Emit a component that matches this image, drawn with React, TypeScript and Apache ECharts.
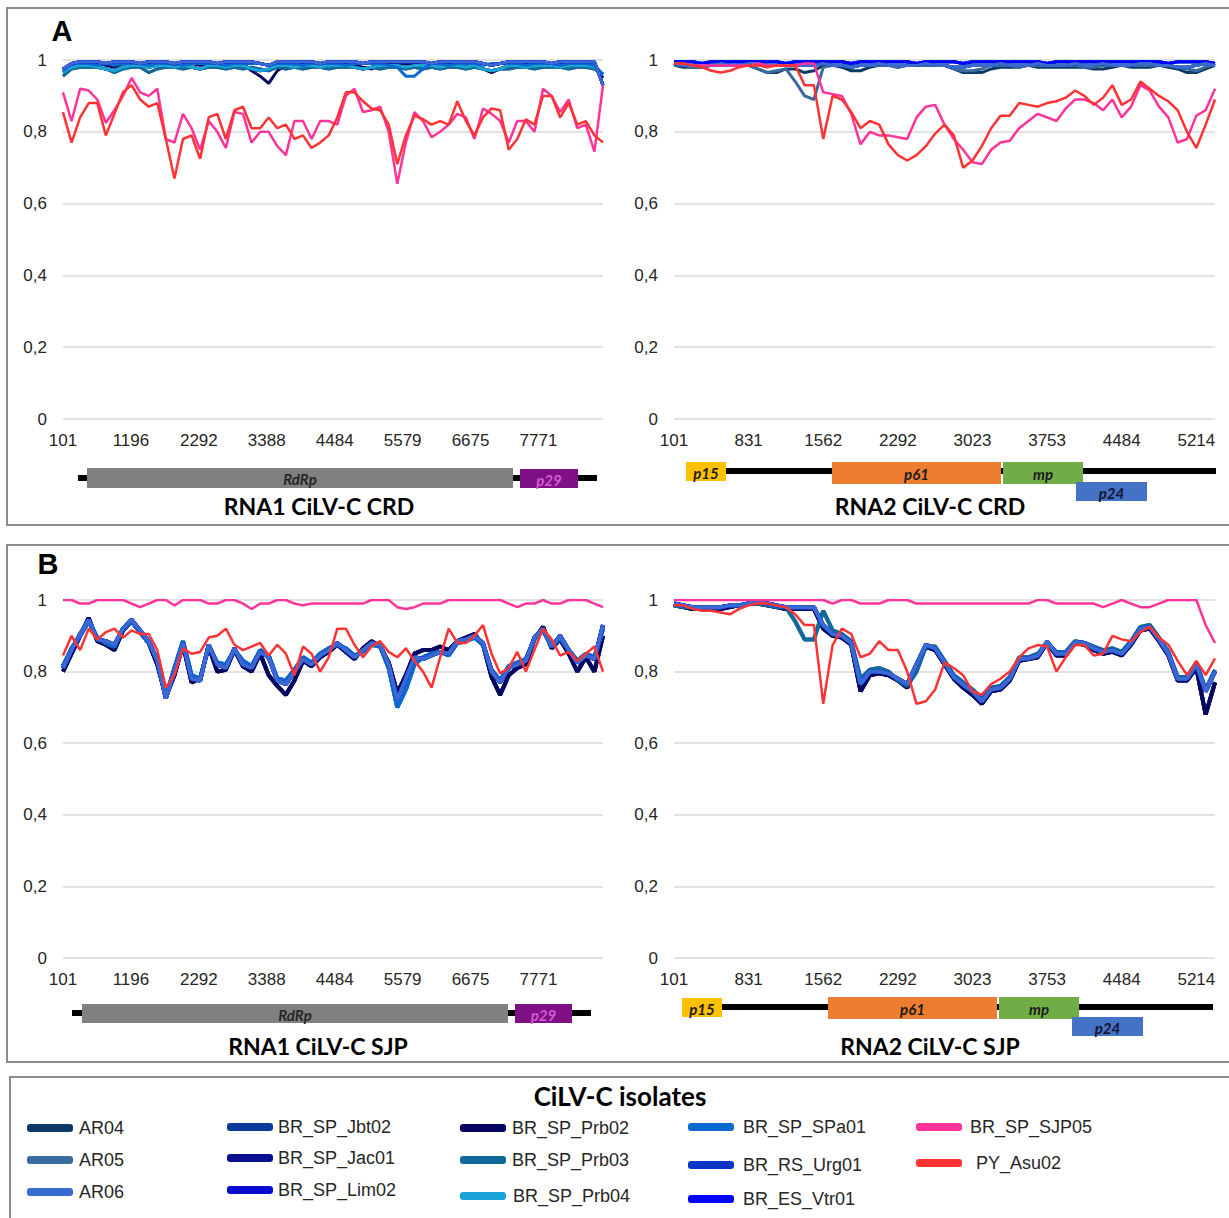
import React, { useEffect, useRef } from "react";
import * as echarts from "echarts";

// ---------- categories / labels ----------
const isolates = [
  "AR04", "AR05", "AR06",
  "BR_SP_Jbt02", "BR_SP_Jac01", "BR_SP_Lim02",
  "BR_SP_Prb02", "BR_SP_Prb03", "BR_SP_Prb04",
  "BR_SP_SPa01", "BR_RS_Urg01", "BR_ES_Vtr01",
  "BR_SP_SJP05", "PY_Asu02",
];
const isolateColors = [
  "#0b3a66", "#3a6a9e", "#3a6ad0",
  "#0a3a9a", "#08108f", "#0a0ad0",
  "#06065e", "#0f6a9a", "#1aa3d6",
  "#0a6ad0", "#0a36c8", "#0000ff",
  "#ff3399", "#ff3333",
];
const rna1Ticks = ["101", "1196", "2292", "3388", "4484", "5579", "6675", "7771"];
const rna2Ticks = ["101", "831", "1562", "2292", "3023", "3753", "4484", "5214"];

// ---------- panel A, RNA1 (CRD reference) ----------
const a1Red = [
  0.855, 0.77, 0.84, 0.88, 0.88, 0.79, 0.85, 0.91, 0.93, 0.89, 0.87, 0.88, 0.78, 0.67, 0.78, 0.79,
  0.725, 0.84, 0.85, 0.78, 0.86, 0.87, 0.81, 0.81, 0.84, 0.81, 0.82, 0.78, 0.79, 0.755, 0.77, 0.79,
  0.84, 0.91, 0.91, 0.885, 0.865, 0.86, 0.82, 0.71, 0.79, 0.845, 0.835, 0.82, 0.83, 0.82, 0.885, 0.83,
  0.79, 0.84, 0.865, 0.86, 0.75, 0.78, 0.835, 0.82, 0.9, 0.9, 0.84, 0.88, 0.82, 0.83, 0.79, 0.77,
];
const a1Pink = [
  0.91, 0.83, 0.92, 0.915, 0.89, 0.825, 0.86, 0.9, 0.95, 0.91, 0.9, 0.92, 0.78, 0.77, 0.85, 0.81,
  0.75, 0.83, 0.8, 0.755, 0.855, 0.85, 0.77, 0.8, 0.8, 0.76, 0.735, 0.83, 0.83, 0.78, 0.83, 0.83,
  0.82, 0.9, 0.92, 0.855, 0.86, 0.87, 0.8, 0.655, 0.77, 0.855, 0.83, 0.785, 0.8, 0.82, 0.85, 0.84,
  0.78, 0.865, 0.85, 0.83, 0.77, 0.83, 0.83, 0.8, 0.92, 0.9, 0.855, 0.89, 0.81, 0.82, 0.745, 0.93,
];
const a1Top = [
  0.975, 0.99, 0.995, 0.995, 0.995, 0.99, 0.995, 0.995, 0.995, 0.99, 0.995, 0.995, 0.995, 0.99, 0.995, 0.995,
  0.995, 0.995, 0.99, 0.995, 0.995, 0.995, 0.995, 0.99, 0.985, 0.995, 0.995, 0.995, 0.995, 0.995, 0.99, 0.995,
  0.995, 0.995, 0.995, 0.99, 0.995, 0.995, 0.995, 0.995, 0.995, 0.995, 0.995, 0.99, 0.995, 0.995, 0.995, 0.995,
  0.995, 0.99, 0.985, 0.99, 0.995, 0.995, 0.995, 0.995, 0.995, 0.99, 0.995, 0.995, 0.995, 0.995, 0.995, 0.93,
];
const a1Mid = [
  0.965, 0.98, 0.985, 0.985, 0.98, 0.975, 0.97, 0.98, 0.985, 0.985, 0.98, 0.985, 0.985, 0.98, 0.985, 0.98,
  0.975, 0.985, 0.985, 0.98, 0.985, 0.985, 0.975, 0.97, 0.975, 0.985, 0.985, 0.98, 0.985, 0.985, 0.98, 0.985,
  0.985, 0.985, 0.98, 0.975, 0.98, 0.985, 0.985, 0.985, 0.98, 0.985, 0.985, 0.985, 0.98, 0.985, 0.985, 0.98,
  0.985, 0.975, 0.97, 0.975, 0.985, 0.985, 0.98, 0.985, 0.985, 0.985, 0.98, 0.985, 0.985, 0.985, 0.98, 0.96,
];
const a1Steel = [
  0.955, 0.975, 0.98, 0.98, 0.98, 0.975, 0.965, 0.975, 0.98, 0.98, 0.965, 0.975, 0.98, 0.98, 0.975, 0.98,
  0.975, 0.98, 0.98, 0.975, 0.98, 0.975, 0.98, 0.975, 0.97, 0.98, 0.975, 0.98, 0.975, 0.98, 0.98, 0.975,
  0.98, 0.98, 0.98, 0.975, 0.98, 0.975, 0.98, 0.98, 0.975, 0.98, 0.975, 0.98, 0.975, 0.98, 0.98, 0.975,
  0.98, 0.975, 0.97, 0.975, 0.975, 0.98, 0.98, 0.975, 0.98, 0.98, 0.98, 0.975, 0.98, 0.98, 0.975, 0.96,
];
const a1Navy = [
  0.97, 0.985, 0.99, 0.99, 0.99, 0.985, 0.98, 0.99, 0.99, 0.985, 0.99, 0.99, 0.99, 0.985, 0.99, 0.99,
  0.985, 0.99, 0.99, 0.99, 0.985, 0.99, 0.97, 0.955, 0.935, 0.97, 0.985, 0.99, 0.99, 0.985, 0.99, 0.99,
  0.99, 0.99, 0.985, 0.98, 0.975, 0.985, 0.99, 0.99, 0.99, 0.99, 0.985, 0.99, 0.99, 0.99, 0.985, 0.99,
  0.985, 0.975, 0.965, 0.975, 0.985, 0.99, 0.99, 0.985, 0.99, 0.99, 0.99, 0.985, 0.99, 0.99, 0.985, 0.95,
];
const a1Sky = [
  0.97, 0.99, 0.99, 0.99, 0.985, 0.99, 0.985, 0.99, 0.99, 0.99, 0.985, 0.99, 0.99, 0.99, 0.985, 0.99,
  0.99, 0.99, 0.99, 0.985, 0.99, 0.99, 0.99, 0.99, 0.985, 0.99, 0.99, 0.99, 0.985, 0.99, 0.99, 0.99,
  0.99, 0.985, 0.99, 0.99, 0.99, 0.99, 0.985, 0.98, 0.955, 0.955, 0.975, 0.99, 0.99, 0.985, 0.99, 0.99,
  0.99, 0.985, 0.99, 0.99, 0.99, 0.99, 0.985, 0.99, 0.99, 0.99, 0.985, 0.99, 0.99, 0.99, 0.985, 0.96,
];

// ---------- panel A, RNA2 (CRD reference) ----------
const a2Red = [
  0.99, 0.99, 0.985, 0.98, 0.97, 0.965, 0.97, 0.98, 0.985, 0.985,
  0.98, 0.985, 0.985, 0.985, 0.93, 0.93, 0.78, 0.9, 0.89, 0.855,
  0.81, 0.83, 0.82, 0.765, 0.735, 0.72, 0.735, 0.76, 0.795, 0.82,
  0.79, 0.7, 0.72, 0.76, 0.81, 0.845, 0.845, 0.88, 0.875, 0.87,
  0.88, 0.885, 0.895, 0.915, 0.9, 0.875, 0.895, 0.93, 0.875, 0.89,
  0.94, 0.92, 0.9, 0.885, 0.86, 0.8, 0.755, 0.82, 0.89,
];
const a2Pink = [
  0.99, 0.99, 0.985, 0.985, 0.985, 0.985, 0.985, 0.985, 0.985, 0.99,
  0.985, 0.985, 0.985, 0.985, 0.99, 0.99, 0.91, 0.905, 0.9, 0.85,
  0.765, 0.8, 0.79, 0.79, 0.785, 0.78, 0.84, 0.87, 0.875, 0.82,
  0.78, 0.75, 0.715, 0.71, 0.75, 0.77, 0.775, 0.81, 0.83, 0.85,
  0.84, 0.83, 0.865, 0.89, 0.89, 0.88, 0.86, 0.89, 0.84, 0.87,
  0.93, 0.915, 0.87, 0.84, 0.77, 0.78, 0.845, 0.86, 0.92,
];
const a2Top = [
  0.995, 0.995, 0.995, 0.99, 0.995, 0.995, 0.995, 0.995, 0.995, 0.995,
  0.995, 0.995, 0.99, 0.995, 0.995, 0.995, 0.995, 0.995, 0.995, 0.99,
  0.995, 0.995, 0.995, 0.995, 0.995, 0.995, 0.99, 0.995, 0.995, 0.995,
  0.995, 0.99, 0.995, 0.995, 0.995, 0.995, 0.995, 0.995, 0.995, 0.995,
  0.99, 0.995, 0.995, 0.995, 0.995, 0.995, 0.995, 0.995, 0.995, 0.995,
  0.995, 0.995, 0.995, 0.99, 0.995, 0.995, 0.995, 0.995, 0.99,
];
const a2Mid = [
  0.99, 0.985, 0.985, 0.985, 0.985, 0.99, 0.985, 0.985, 0.99, 0.99,
  0.985, 0.985, 0.985, 0.985, 0.985, 0.985, 0.99, 0.985, 0.985, 0.98,
  0.985, 0.985, 0.99, 0.985, 0.985, 0.985, 0.985, 0.99, 0.985, 0.985,
  0.98, 0.98, 0.985, 0.985, 0.985, 0.99, 0.985, 0.985, 0.985, 0.99,
  0.985, 0.985, 0.985, 0.99, 0.985, 0.985, 0.99, 0.985, 0.985, 0.985,
  0.99, 0.99, 0.985, 0.985, 0.98, 0.98, 0.985, 0.99, 0.985,
];
const a2Steel = [
  0.985, 0.985, 0.98, 0.98, 0.985, 0.985, 0.985, 0.985, 0.985, 0.975,
  0.965, 0.97, 0.975, 0.94, 0.9, 0.89, 0.98, 0.985, 0.985, 0.98,
  0.985, 0.985, 0.985, 0.985, 0.98, 0.985, 0.985, 0.985, 0.985, 0.985,
  0.975, 0.97, 0.97, 0.975, 0.985, 0.985, 0.985, 0.98, 0.985, 0.985,
  0.985, 0.985, 0.985, 0.985, 0.98, 0.98, 0.985, 0.985, 0.985, 0.985,
  0.985, 0.985, 0.985, 0.985, 0.98, 0.975, 0.97, 0.98, 0.99,
];
const a2Dark = [
  0.985, 0.98, 0.98, 0.98, 0.985, 0.985, 0.985, 0.985, 0.985, 0.975,
  0.965, 0.965, 0.975, 0.975, 0.965, 0.97, 0.985, 0.985, 0.98, 0.97,
  0.97, 0.98, 0.985, 0.985, 0.98, 0.985, 0.985, 0.985, 0.985, 0.985,
  0.975, 0.965, 0.965, 0.965, 0.975, 0.98, 0.98, 0.98, 0.985, 0.98,
  0.98, 0.98, 0.98, 0.98, 0.98, 0.975, 0.975, 0.98, 0.985, 0.98,
  0.98, 0.98, 0.985, 0.98, 0.975, 0.965, 0.965, 0.975, 0.985,
];

// ---------- panel B, RNA1 (SJP reference) ----------
const b1Pink = [
  1.0, 1.0, 0.99, 0.99, 1.0, 1.0, 1.0, 1.0, 0.99, 0.98, 0.99, 1.0, 1.0, 0.985, 1.0, 1.0,
  1.0, 0.99, 0.99, 1.0, 1.0, 0.99, 0.975, 0.99, 0.99, 1.0, 1.0, 0.99, 0.985, 0.99, 0.99, 0.99,
  0.99, 0.99, 0.99, 0.99, 1.0, 1.0, 1.0, 0.98, 0.975, 0.98, 0.99, 0.99, 0.99, 1.0, 1.0, 1.0,
  1.0, 1.0, 1.0, 1.0, 0.99, 0.98, 0.99, 0.99, 1.0, 0.99, 0.99, 1.0, 1.0, 1.0, 0.99, 0.98,
];
const b1Red = [
  0.845, 0.9, 0.86, 0.92, 0.89, 0.91, 0.92, 0.895, 0.915, 0.905, 0.905, 0.86, 0.755, 0.79, 0.865, 0.85,
  0.855, 0.895, 0.9, 0.92, 0.875, 0.86, 0.87, 0.88, 0.845, 0.875, 0.85, 0.79, 0.87, 0.85, 0.8, 0.84,
  0.92, 0.92, 0.875, 0.84, 0.87, 0.885, 0.855, 0.84, 0.865, 0.83, 0.8, 0.755, 0.84, 0.92, 0.88, 0.88,
  0.9, 0.93, 0.85, 0.795, 0.81, 0.855, 0.8, 0.86, 0.92, 0.89, 0.845, 0.855, 0.83, 0.85, 0.87, 0.8,
];
const b1Blue = [
  0.81, 0.86, 0.905, 0.945, 0.89, 0.885, 0.875, 0.92, 0.945, 0.915, 0.885, 0.83, 0.725, 0.8, 0.88, 0.78,
  0.775, 0.875, 0.82, 0.81, 0.865, 0.82, 0.81, 0.855, 0.84, 0.775, 0.765, 0.8, 0.835, 0.82, 0.845, 0.86,
  0.88, 0.86, 0.84, 0.86, 0.88, 0.875, 0.82, 0.72, 0.78, 0.84, 0.835, 0.845, 0.855, 0.85, 0.885, 0.89,
  0.9, 0.88, 0.8, 0.77, 0.81, 0.82, 0.83, 0.895, 0.92, 0.87, 0.9, 0.86, 0.825, 0.845, 0.835, 0.93,
];
const b1Navy = [
  0.8, 0.85, 0.9, 0.95, 0.885, 0.875, 0.86, 0.915, 0.94, 0.91, 0.88, 0.82, 0.73, 0.79, 0.875, 0.77,
  0.78, 0.87, 0.8, 0.805, 0.86, 0.815, 0.8, 0.85, 0.79, 0.76, 0.735, 0.775, 0.83, 0.815, 0.84, 0.855,
  0.875, 0.855, 0.835, 0.865, 0.885, 0.87, 0.825, 0.74, 0.79, 0.85, 0.86, 0.86, 0.87, 0.86, 0.885, 0.895,
  0.905, 0.875, 0.785, 0.735, 0.79, 0.81, 0.82, 0.89, 0.925, 0.865, 0.89, 0.85, 0.8, 0.84, 0.8, 0.9,
];
const b1Light = [
  0.815, 0.865, 0.9, 0.94, 0.895, 0.88, 0.87, 0.92, 0.94, 0.91, 0.88, 0.835, 0.73, 0.81, 0.885, 0.79,
  0.78, 0.87, 0.825, 0.82, 0.86, 0.83, 0.815, 0.86, 0.845, 0.78, 0.775, 0.805, 0.84, 0.825, 0.85, 0.865,
  0.875, 0.865, 0.845, 0.855, 0.875, 0.87, 0.81, 0.7, 0.75, 0.82, 0.84, 0.85, 0.855, 0.845, 0.88, 0.885,
  0.895, 0.875, 0.805, 0.775, 0.815, 0.825, 0.835, 0.89, 0.915, 0.87, 0.895, 0.86, 0.83, 0.85, 0.84, 0.92,
];

// ---------- panel B, RNA2 (SJP reference) ----------
const b2Pink = [
  1.0, 1.0, 1.0, 1.0, 1.0, 1.0, 1.0, 1.0, 1.0, 1.0,
  1.0, 1.0, 1.0, 1.0, 1.0, 1.0, 1.0, 0.99, 1.0, 1.0,
  0.99, 0.99, 0.99, 1.0, 1.0, 1.0, 0.99, 0.99, 0.99, 0.99,
  0.99, 0.99, 0.99, 0.99, 0.99, 0.99, 0.99, 0.99, 0.99, 1.0,
  1.0, 0.99, 0.99, 0.99, 0.99, 0.99, 0.98, 0.99, 1.0, 0.99,
  0.98, 0.98, 0.99, 1.0, 1.0, 1.0, 1.0, 0.93, 0.88,
];
const b2Red = [
  0.985, 0.985, 0.975, 0.97, 0.97, 0.965, 0.96, 0.975, 0.985, 0.99,
  0.99, 0.985, 0.98, 0.96, 0.93, 0.93, 0.71, 0.874, 0.92, 0.905,
  0.84, 0.85, 0.885, 0.86, 0.86, 0.8, 0.71, 0.717, 0.75, 0.825,
  0.81, 0.79, 0.745, 0.735, 0.765, 0.78, 0.8, 0.84, 0.865, 0.874,
  0.87, 0.8, 0.84, 0.874, 0.874, 0.845, 0.85, 0.9, 0.89, 0.885,
  0.91, 0.925, 0.895, 0.875, 0.83, 0.79, 0.83, 0.79, 0.837,
];
const b2Blue = [
  0.99, 0.985, 0.98, 0.98, 0.98, 0.98, 0.985, 0.985, 0.99, 0.995,
  0.99, 0.985, 0.98, 0.98, 0.98, 0.98, 0.93, 0.905, 0.9, 0.88,
  0.765, 0.8, 0.8, 0.795, 0.78, 0.765, 0.82, 0.875, 0.865, 0.825,
  0.785, 0.763, 0.745, 0.717, 0.75, 0.755, 0.78, 0.835, 0.837, 0.845,
  0.883, 0.85, 0.85, 0.883, 0.88, 0.865, 0.855, 0.86, 0.85, 0.88,
  0.92, 0.925, 0.89, 0.85, 0.78, 0.78, 0.82, 0.745, 0.8,
];
const b2Dark = [
  0.985, 0.98, 0.975, 0.98, 0.975, 0.975, 0.98, 0.985, 0.99, 0.99,
  0.985, 0.98, 0.975, 0.975, 0.975, 0.975, 0.92, 0.9, 0.895, 0.875,
  0.745, 0.79, 0.795, 0.79, 0.775, 0.755, 0.815, 0.87, 0.86, 0.82,
  0.78, 0.755, 0.735, 0.71, 0.745, 0.75, 0.775, 0.83, 0.835, 0.84,
  0.88, 0.845, 0.845, 0.88, 0.875, 0.86, 0.85, 0.855, 0.845, 0.875,
  0.915, 0.92, 0.885, 0.845, 0.775, 0.775, 0.81, 0.68, 0.77,
];
const b2Steel = [
  0.985, 0.98, 0.98, 0.975, 0.98, 0.98, 0.985, 0.985, 0.99, 0.99,
  0.985, 0.98, 0.98, 0.94, 0.89, 0.89, 0.97, 0.915, 0.905, 0.885,
  0.78, 0.805, 0.81, 0.8, 0.775, 0.76, 0.8, 0.87, 0.87, 0.83,
  0.79, 0.77, 0.75, 0.725, 0.755, 0.76, 0.785, 0.84, 0.84, 0.85,
  0.88, 0.855, 0.855, 0.885, 0.88, 0.87, 0.86, 0.865, 0.855, 0.885,
  0.925, 0.93, 0.895, 0.855, 0.785, 0.785, 0.825, 0.75, 0.805,
];

// which traced curve each isolate follows, per panel (same order as isolates)
const panelCurves = [
  [a1Mid, a1Steel, a1Top, a1Mid, a1Top, a1Top, a1Navy, a1Steel, a1Mid, a1Sky, a1Top, a1Top, a1Pink, a1Red],
  [a2Dark, a2Steel, a2Mid, a2Top, a2Mid, a2Top, a2Mid, a2Mid, a2Top, a2Mid, a2Top, a2Top, a2Pink, a2Red],
  [b1Navy, b1Light, b1Blue, b1Blue, b1Navy, b1Blue, b1Navy, b1Light, b1Light, b1Light, b1Blue, b1Blue, b1Pink, b1Red],
  [b2Dark, b2Steel, b2Blue, b2Blue, b2Dark, b2Blue, b2Dark, b2Steel, b2Blue, b2Blue, b2Blue, b2Blue, b2Pink, b2Red],
];

// ---------- layout ----------
const FONT = "'Liberation Sans', Arial, sans-serif";
const TITLE_FONT = "Lato, 'Open Sans', sans-serif";
const panelLayout = [
  { left: 63, top: 60, width: 540, height: 359, xMax: 7.95, ticks: rna1Ticks, blueWidth: 3 },
  { left: 674, top: 60, width: 541, height: 359, xMax: 7.25, ticks: rna2Ticks, blueWidth: 3 },
  { left: 63, top: 600, width: 540, height: 358, xMax: 7.95, ticks: rna1Ticks, blueWidth: 4 },
  { left: 674, top: 600, width: 541, height: 358, xMax: 7.25, ticks: rna2Ticks, blueWidth: 4 },
];

type Box = { x: number; y: number; w: number; h: number; fill: string; label?: string; labelColor?: string };
const genomeMaps: { boxes: Box[]; title: string; tx: number; ty: number }[] = [
  {
    boxes: [
      { x: 78, y: 475, w: 519, h: 6, fill: "#000" },
      { x: 87, y: 468, w: 426, h: 20, fill: "#808080", label: "RdRp", labelColor: "#262626" },
      { x: 520, y: 469, w: 58, h: 19, fill: "#7f0f84", label: "p29", labelColor: "#d35ad3" },
    ],
    title: "RNA1 CiLV-C CRD", tx: 319, ty: 506,
  },
  {
    boxes: [
      { x: 726, y: 468, w: 490, h: 6, fill: "#000" },
      { x: 686, y: 462, w: 40, h: 19, fill: "#ffc000", label: "p15", labelColor: "#1a1a1a" },
      { x: 832, y: 462, w: 169, h: 22, fill: "#ed7d31", label: "p61", labelColor: "#1a1a1a" },
      { x: 1003, y: 462, w: 80, h: 22, fill: "#70ad47", label: "mp", labelColor: "#1a1a1a" },
      { x: 1076, y: 482, w: 71, h: 19, fill: "#4472c4", label: "p24", labelColor: "#141432" },
    ],
    title: "RNA2 CiLV-C CRD", tx: 930, ty: 506,
  },
  {
    boxes: [
      { x: 72, y: 1010, w: 519, h: 6, fill: "#000" },
      { x: 82, y: 1004, w: 426, h: 19, fill: "#808080", label: "RdRp", labelColor: "#262626" },
      { x: 515, y: 1004, w: 57, h: 19, fill: "#7f0f84", label: "p29", labelColor: "#d35ad3" },
    ],
    title: "RNA1 CiLV-C SJP", tx: 318, ty: 1046,
  },
  {
    boxes: [
      { x: 722, y: 1004, w: 491, h: 6, fill: "#000" },
      { x: 682, y: 998, w: 40, h: 19, fill: "#ffc000", label: "p15", labelColor: "#1a1a1a" },
      { x: 828, y: 997, w: 169, h: 22, fill: "#ed7d31", label: "p61", labelColor: "#1a1a1a" },
      { x: 999, y: 997, w: 80, h: 22, fill: "#70ad47", label: "mp", labelColor: "#1a1a1a" },
      { x: 1072, y: 1017, w: 71, h: 19, fill: "#4472c4", label: "p24", labelColor: "#141432" },
    ],
    title: "RNA2 CiLV-C SJP", tx: 930, ty: 1046,
  },
];

// legend placement (swatch x, text x, row y) in legend order
const legendSlots = [
  [27, 79, 1128], [27, 79, 1160], [27, 79, 1192],
  [227, 278, 1127], [227, 278, 1158], [227, 278, 1190],
  [460, 512, 1128], [460, 512, 1160], [460, 513, 1196],
  [688, 743, 1127], [688, 743, 1165], [688, 743, 1199],
  [916, 970, 1127], [916, 976, 1163],
];

function txt(x: number, y: number, text: string, font: string, fill: string, align = "center") {
  return {
    type: "text",
    silent: true,
    style: {
      x, y, text, font, fill,
      align, verticalAlign: "middle",
      textAlign: align, textVerticalAlign: "middle",
    },
  };
}

function buildOption() {
  const grid: any[] = [];
  const xAxis: any[] = [];
  const yAxis: any[] = [];
  const series: any[] = [];

  panelLayout.forEach((p, pi) => {
    grid.push({ left: p.left, top: p.top, width: p.width, height: p.height });
    xAxis.push({
      type: "value", gridIndex: pi, min: 0, max: p.xMax, interval: 1,
      axisLine: { show: false }, axisTick: { show: false }, splitLine: { show: false },
      axisLabel: {
        showMaxLabel: false, margin: 13, fontSize: 17, fontFamily: FONT, color: "#262626",
        formatter: (v: number) => {
          const k = Math.round(v);
          return Math.abs(v - k) < 1e-6 && p.ticks[k] ? p.ticks[k] : "";
        },
      },
    });
    yAxis.push({
      type: "value", gridIndex: pi, min: 0, max: 1, interval: 0.2,
      axisLine: { show: false }, axisTick: { show: false },
      splitLine: { lineStyle: { color: "#d9d9d9", width: 1.5 } },
      axisLabel: {
        margin: 16, fontSize: 17, fontFamily: FONT, color: "#262626",
        formatter: (v: number) => String(Math.round(v * 10) / 10).replace(".", ","),
      },
    });
    panelCurves[pi].forEach((vals, si) => {
      const n = vals.length;
      const isRed = si === 13;
      const isPink = si === 12;
      series.push({
        type: "line", name: isolates[si], xAxisIndex: pi, yAxisIndex: pi,
        data: vals.map((v, i) => [(i * p.xMax) / (n - 1), v]),
        showSymbol: false, symbol: "none", silent: true,
        z: isRed ? 6 : isPink ? 5 : si === 2 ? 4 : 3,
        lineStyle: { color: isolateColors[si], width: isRed || isPink ? 2.5 : p.blueWidth },
        itemStyle: { color: isolateColors[si] },
        emphasis: { disabled: true },
      });
    });
  });

  const graphic: any[] = [];
  // panel frames
  graphic.push({ type: "rect", silent: true, shape: { x: 7, y: 8, width: 1240, height: 517 }, style: { fill: "none", stroke: "#8c8c8c", lineWidth: 2 } });
  graphic.push({ type: "rect", silent: true, shape: { x: 7, y: 545, width: 1240, height: 517 }, style: { fill: "none", stroke: "#8c8c8c", lineWidth: 2 } });
  graphic.push({ type: "rect", silent: true, shape: { x: 10, y: 1077, width: 1240, height: 170 }, style: { fill: "none", stroke: "#8c8c8c", lineWidth: 2 } });
  graphic.push(txt(62, 31, "A", "bold 29px " + FONT, "#000"));
  graphic.push(txt(48, 564, "B", "bold 29px " + FONT, "#000"));

  genomeMaps.forEach((g) => {
    g.boxes.forEach((b) => {
      graphic.push({ type: "rect", silent: true, shape: { x: b.x, y: b.y, width: b.w, height: b.h }, style: { fill: b.fill } });
    });
    g.boxes.forEach((b) => {
      if (b.label) graphic.push(txt(b.x + b.w / 2, b.y + b.h / 2 + 1, b.label, "italic bold 15px " + TITLE_FONT, b.labelColor || "#000"));
    });
    graphic.push(txt(g.tx, g.ty, g.title, "bold 23px " + TITLE_FONT, "#000"));
  });

  // legend
  graphic.push(txt(620, 1096, "CiLV-C isolates", "bold 26px " + TITLE_FONT, "#000"));
  isolates.forEach((name, i) => {
    const [sx, tx, y] = legendSlots[i];
    graphic.push({ type: "rect", silent: true, shape: { x: sx, y: y - 4, width: 46, height: 8, r: 3 }, style: { fill: isolateColors[i] } });
    graphic.push(txt(tx, y, name, "18px " + FONT, "#262626", "left"));
  });

  return { animation: false, backgroundColor: "#fff", grid, xAxis, yAxis, series, graphic };
}

export default function App() {
  const ref = useRef<HTMLDivElement>(null);
  useEffect(() => {
    if (!ref.current) return;
    const chart = echarts.init(ref.current, undefined, { renderer: "svg" });
    chart.setOption(buildOption() as any);
    return () => chart.dispose();
  }, []);
  return <div ref={ref} style={{ position: "absolute", left: 0, top: 0, width: 1229, height: 1218 }} />;
}
